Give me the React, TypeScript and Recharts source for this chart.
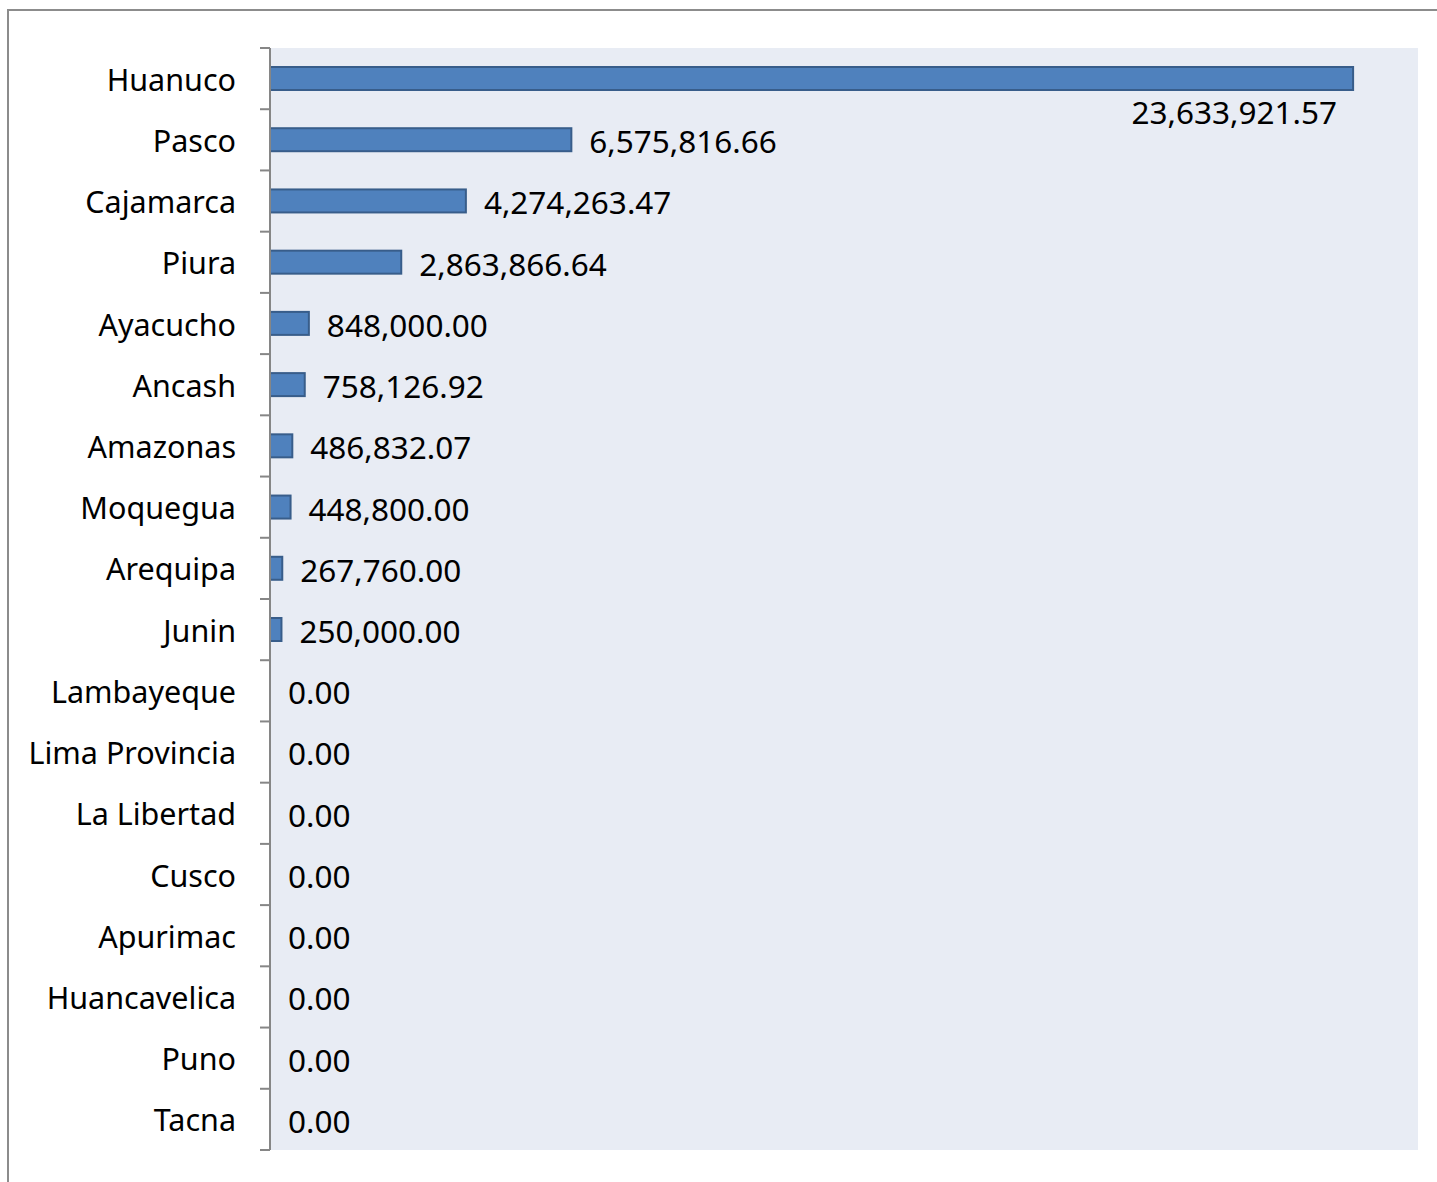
import { Bar, BarChart, CartesianGrid, XAxis, YAxis } from "recharts";

const regions = [
    "Huanuco", "Pasco", "Cajamarca", "Piura", "Ayacucho", "Ancash", "Amazonas", "Moquegua", "Arequipa",
    "Junin", "Lambayeque", "Lima Provincia", "La Libertad", "Cusco", "Apurimac", "Huancavelica", "Puno", "Tacna",
];

const amounts = [
    23633921.57, 6575816.66, 4274263.47, 2863866.64, 848000.0, 758126.92, 486832.07, 448800.0, 267760.0,
    250000.0, 0, 0, 0, 0, 0, 0, 0, 0,
];

const xDomain = [0, 25050000];

const data = regions.map((name, i) => ({ name, value: amounts[i] }));

const WIDTH = 1437;
const HEIGHT = 1182;
const AXIS_W = 270;
const TOP = 48;
const BOTTOM = 32;
const RIGHT = 19;
const BAND = (HEIGHT - TOP - BOTTOM) / regions.length;
const FONT = "'Noto Sans', 'Open Sans', sans-serif";
const GRAY = "#868686";

const fmt = (v: number) =>
    v.toLocaleString("en-US", { minimumFractionDigits: 2, maximumFractionDigits: 2 });

function CategoryTick(props: any) {
    const { x, y, payload, index } = props;
    const half = BAND / 2;
    return (
        <g>
            <line x1={AXIS_W - 10} x2={AXIS_W} y1={y - half} y2={y - half} stroke={GRAY} strokeWidth={2} />
            {index === regions.length - 1 && (
                <line x1={AXIS_W - 10} x2={AXIS_W} y1={y + half} y2={y + half} stroke={GRAY} strokeWidth={2} />
            )}
            <text
                x={x}
                y={y}
                textAnchor="end"
                dominantBaseline="central"
                fontFamily={FONT}
                fontSize={30.5}
                fill="#000"
            >
                {payload.value}
            </text>
        </g>
    );
}

// bar rect + its value label (zero-width bars still get a label)
function BarWithLabel(props: any) {
    const { x, y, width, height, value, index } = props;
    const v = Array.isArray(value) ? value[1] - value[0] : Number(value);
    const w = Math.max(0, Number(width) || 0);
    const end = Number(x) + w;
    const cy = Number(y) + Number(height) / 2;
    const first = index === 0;
    return (
        <g>
            {w > 0 && (
                <rect x={x} y={y} width={w} height={height} fill="#4F81BD" stroke="#385D8A" strokeWidth={2} />
            )}
            <text
                x={first ? end - 16 : end + 18}
                y={first ? cy + 33 : cy + 1}
                textAnchor={first ? "end" : "start"}
                dominantBaseline="central"
                fontFamily={FONT}
                fontSize={31.5}
                fill="#000"
            >
                {fmt(v)}
            </text>
        </g>
    );
}

export default function App() {
    return (
        <div style={{ position: "fixed", inset: 0, overflow: "hidden", background: "#fff" }}>
            <div
                style={{
                    position: "absolute",
                    left: 7,
                    top: 9,
                    width: WIDTH + 20,
                    height: HEIGHT + 20,
                    border: "2px solid #8c8c8c",
                }}
            />
            <div style={{ position: "absolute", left: 0, top: 0 }}>
                <BarChart
                    width={WIDTH}
                    height={HEIGHT}
                    data={data}
                    layout="vertical"
                    margin={{ top: TOP, right: RIGHT, bottom: BOTTOM, left: 0 }}
                >
                    <CartesianGrid horizontal={false} vertical={false} fill="#E8ECF4" />
                    <XAxis type="number" domain={xDomain} hide />
                    <YAxis
                        type="category"
                        dataKey="name"
                        width={AXIS_W}
                        tickLine={false}
                        tickSize={10}
                        tickMargin={24}
                        axisLine={{ stroke: GRAY, strokeWidth: 2 }}
                        tick={<CategoryTick />}
                        interval={0}
                    />
                    <Bar dataKey="value" barSize={23} shape={<BarWithLabel />} isAnimationActive={false} />
                </BarChart>
            </div>
        </div>
    );
}
